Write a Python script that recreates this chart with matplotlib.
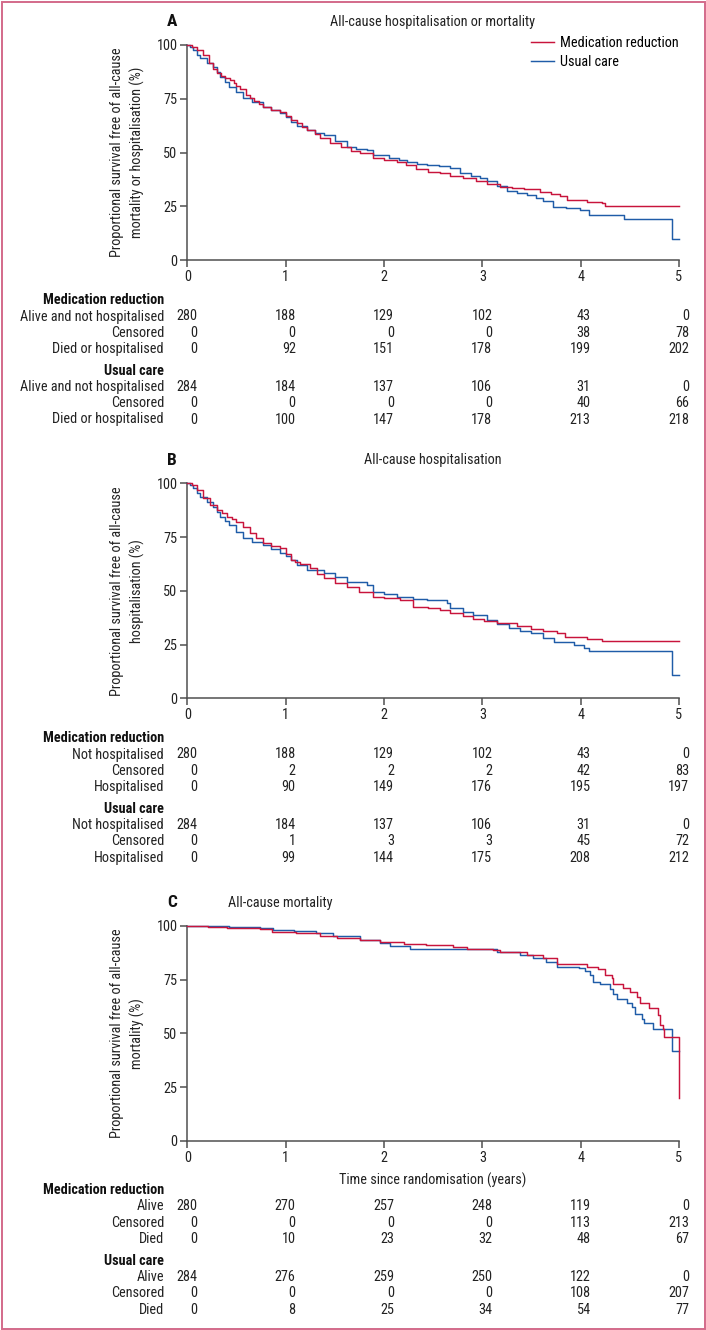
import matplotlib
matplotlib.use("Agg")
import matplotlib.pyplot as plt
import matplotlib.transforms as mtransforms
from matplotlib import font_manager
from matplotlib.patches import Rectangle

_names = {f.name for f in font_manager.fontManager.ttflist}
FONT = next((f for f in ["Liberation Sans Narrow", "Roboto Condensed", "Open Sans Condensed"]
             if f in _names), "Liberation Sans")
plt.rcParams["font.family"] = [FONT, "DejaVu Sans"]

RED = "#c8143c"
BLUE = "#1f5ca8"
GREY = "#505050"
TXT = "#222222"

W, H = 706, 1330
YEARS = [0, 1, 2, 3, 4, 5]

# ---- KM curves (time in years, % event free) ----
a_med_t = [0, 0.05, 0.10, 0.16, 0.22, 0.26, 0.30, 0.34, 0.38, 0.43, 0.47, 0.50, 0.54, 0.60, 0.64,
           0.68, 0.73, 0.77, 0.85, 0.94, 1.00, 1.05, 1.12, 1.17, 1.22, 1.30, 1.35, 1.45, 1.56,
           1.66, 1.76, 1.89, 2.00, 2.13, 2.22, 2.33, 2.45, 2.57, 2.67, 2.80, 2.94, 3.05, 3.18,
           3.30, 3.42, 3.59, 3.70, 3.79, 3.86, 4.06, 4.22, 4.25, 5.0]
a_med_s = [100, 99, 97.5, 95.3, 91.5, 89, 86.8, 85.5, 84.5, 83.5, 82.2, 81, 79.5, 76.7, 75.5,
           74, 72.5, 71.3, 70, 69, 67, 65, 63.5, 62, 60.5, 58.5, 56.6, 54.5, 52.7,
           50.5, 49.6, 47.3, 46.5, 45.5, 44, 42.1, 41, 40.6, 39, 38, 36.7, 35.5, 34.1,
           33.5, 32.9, 31.6, 30.6, 29.8, 27.9, 27.2, 26.4, 24.9, 24.9]
a_usu_t = [0, 0.03, 0.06, 0.10, 0.13, 0.20, 0.26, 0.30, 0.33, 0.38, 0.42, 0.50, 0.57, 0.66, 0.77,
           0.85, 0.94, 1.00, 1.05, 1.12, 1.22, 1.30, 1.39, 1.50, 1.62, 1.72, 1.83, 1.89, 2.05,
           2.15, 2.23, 2.34, 2.44, 2.56, 2.67, 2.77, 2.88, 2.98, 3.05, 3.15, 3.25, 3.35, 3.45,
           3.55, 3.62, 3.72, 3.85, 3.99, 4.08, 4.44, 4.93, 5.0]
a_usu_s = [100, 99, 97.5, 95.5, 93.8, 91.5, 89.9, 87.5, 85.3, 83, 80.6, 78, 75.2, 73.5, 71.3,
           70, 68.2, 66.5, 64.3, 62.5, 60.5, 59.2, 58.1, 55.5, 52.7, 51.8, 51.2, 48.8, 47.5,
           46.5, 45.5, 44.8, 44.1, 43.5, 42.9, 40.3, 39.2, 38, 36.7, 34.5, 32.1, 31.2, 30.2,
           28.8, 27.5, 24.7, 24, 23.3, 21, 19.3, 9.7, 9.7]

b_med_t = [0, 0.05, 0.095, 0.16, 0.23, 0.30, 0.35, 0.40, 0.45, 0.50, 0.57, 0.64, 0.70, 0.77, 0.85,
           0.94, 1.00, 1.05, 1.10, 1.15, 1.25, 1.32, 1.39, 1.50, 1.62, 1.75, 1.89, 2.00, 2.16,
           2.30, 2.45, 2.57, 2.67, 2.80, 2.91, 3.02, 3.15, 3.35, 3.49, 3.62, 3.76, 3.84, 4.06,
           4.22, 5.0]
b_med_s = [100, 99, 96.9, 93, 90, 87.6, 86, 84.5, 83.3, 82.2, 79.5, 76.8, 74.5, 72.1, 71,
           69.8, 67, 64.4, 63.5, 62.5, 60.5, 58, 55.8, 53.8, 51.9, 49.5, 47.3, 46.5, 45.7,
           42.6, 41.8, 41.1, 39.5, 38.2, 36.9, 35.9, 34.9, 33.8, 32.2, 31.2, 30.2, 28.6, 27.6,
           26.7, 26.7]
b_usu_t = [0, 0.03, 0.06, 0.10, 0.13, 0.20, 0.26, 0.30, 0.33, 0.38, 0.42, 0.50, 0.57, 0.66, 0.77,
           0.85, 0.94, 1.00, 1.05, 1.12, 1.22, 1.39, 1.50, 1.62, 1.83, 1.89, 2.00, 2.13, 2.30,
           2.44, 2.64, 2.67, 2.80, 2.91, 3.05, 3.15, 3.27, 3.38, 3.49, 3.62, 3.73, 3.93, 4.03,
           4.08, 4.93, 5.0]
b_usu_s = [100, 99, 97.7, 95.5, 93.8, 91.5, 89.1, 86.5, 84.5, 82.5, 80.6, 77.5, 74.4, 72.8, 71.3,
           69.5, 67.4, 66, 64.4, 62, 59.7, 58.2, 56.3, 54.3, 52.7, 49.6, 48.5, 47.3, 46,
           45.7, 44.2, 41.9, 40.3, 38.7, 36.4, 34.5, 32.6, 31.4, 30.2, 28.2, 26.3, 24.8, 23.3,
           22, 10.8, 10.8]

c_med_t = [0, 0.21, 0.40, 0.74, 0.86, 1.11, 1.35, 1.52, 1.76, 1.96, 2.20, 2.43, 2.70, 2.84, 3.11,
           3.18, 3.45, 3.62, 3.76, 4.06, 4.18, 4.25, 4.32, 4.33, 4.43, 4.50, 4.57, 4.60, 4.69,
           4.79, 4.81, 4.84, 4.85, 5.0]
c_med_s = [100, 99.5, 98.8, 98.3, 97.2, 96.4, 95.3, 94.4, 93.3, 92.2, 91.5, 91, 90.2, 89.4, 88.7,
           87.6, 86.6, 84.8, 82.1, 80.9, 79.8, 77.3, 75.5, 73.1, 71.1, 69.3, 66.9, 64.3, 61.8,
           58.4, 54, 52.2, 48.3, 20]
c_usu_t = [0, 0.42, 0.74, 0.87, 1.08, 1.31, 1.48, 1.76, 1.96, 2.06, 2.26, 2.77, 3.15, 3.38, 3.52,
           3.65, 3.76, 3.98, 4.04, 4.09, 4.13, 4.20, 4.30, 4.33, 4.37, 4.47, 4.52, 4.55, 4.62,
           4.64, 4.74, 4.93, 5.0]
c_usu_s = [100, 99.2, 98.8, 98, 97.5, 96.4, 95.3, 93.3, 91.8, 90.7, 89.4, 89, 87.9, 86.6, 84.8,
           83.2, 80.9, 80.4, 78.9, 77, 73.9, 73.1, 70.8, 68.5, 66.1, 64.3, 62.3, 59.2, 56.8,
           55, 51.9, 41.6, 41.6]

# ---- numbers at risk ----
a_rows = ["Alive and not hospitalised", "Censored", "Died or hospitalised"]
a_med = [[280, 188, 129, 102, 43, 0], [0, 0, 0, 0, 38, 78], [0, 92, 151, 178, 199, 202]]
a_usu = [[284, 184, 137, 106, 31, 0], [0, 0, 0, 0, 40, 66], [0, 100, 147, 178, 213, 218]]

b_rows = ["Not hospitalised", "Censored", "Hospitalised"]
b_med = [[280, 188, 129, 102, 43, 0], [0, 2, 2, 2, 42, 83], [0, 90, 149, 176, 195, 197]]
b_usu = [[284, 184, 137, 106, 31, 0], [0, 1, 3, 3, 45, 72], [0, 99, 144, 175, 208, 212]]

c_rows = ["Alive", "Censored", "Died"]
c_med = [[280, 270, 257, 248, 119, 0], [0, 0, 0, 0, 113, 213], [0, 10, 23, 32, 48, 67]]
c_usu = [[284, 276, 259, 250, 122, 0], [0, 0, 0, 0, 108, 207], [0, 8, 25, 34, 54, 77]]

FS = 10.3


def fy(py):
    return 1 - py / H


fig = plt.figure(figsize=(W / 100, H / 100), dpi=100)


def panel(top_px, bot_px, letter, title, title_x, ylabel, med_t, med_s, usu_t, usu_s,
          rows, med, usu, table_px, xlabel=None, legend=False):
    ax = fig.add_axes([187.3 / W, fy(bot_px), (679 - 187.3) / W, (bot_px - top_px) / H])
    ax.step(usu_t, usu_s, where="post", color=BLUE, lw=1.05, clip_on=False, zorder=3,
            label="Usual care")
    ax.step(med_t, med_s, where="post", color=RED, lw=1.05, clip_on=False, zorder=4,
            label="Medication reduction")
    ax.set_xlim(0, 5)
    ax.set_ylim(0, 100)
    ax.set_xticks(YEARS)
    ax.set_yticks([0, 25, 50, 75, 100])
    for s in ["top", "right"]:
        ax.spines[s].set_visible(False)
    for s in ["left", "bottom"]:
        ax.spines[s].set_color(GREY)
        ax.spines[s].set_linewidth(1.1)
    ax.tick_params(colors=GREY, labelcolor=TXT, labelsize=FS, length=5, width=1.1, pad=2)
    # y label drawn as two rotated lines, centred on the axes
    mid = (top_px + bot_px) / 2
    for x_px, line in zip((117, 137.5), ylabel):
        fig.text(x_px / W, fy(mid), line, fontsize=FS, color=TXT, rotation=90,
                 ha="center", va="center")
    if xlabel:
        fig.text(433 / W, fy(1180), xlabel, fontsize=FS, color=TXT, ha="center", va="center")
    if legend:
        h, l = ax.get_legend_handles_labels()
        ax.legend(h[::-1], l[::-1], loc="upper right", bbox_to_anchor=(1.0, 1.04),
                  frameon=False, fontsize=FS, handlelength=1.6, handletextpad=0.45,
                  labelspacing=0.3, borderaxespad=0, borderpad=0)
    fig.text(177 / W, fy(top_px - 23), letter, fontsize=12.5, fontweight="bold", color="#111111",
             ha="right", va="center")
    fig.text(title_x / W, fy(top_px - 23), title, fontsize=FS, color=TXT,
             ha="center" if title_x > 400 else "left", va="center")

    # risk table
    tr = mtransforms.blended_transform_factory(ax.transData, fig.transFigure) + \
        mtransforms.ScaledTranslation(10 / 100, 0, fig.dpi_scale_trans)
    y = table_px
    for group, data in (("Medication reduction", med), ("Usual care", usu)):
        fig.text(164 / W, fy(y), group, fontsize=FS, fontweight="bold", color="#111111",
                 ha="right", va="center")
        y += 16.5
        for name, vals in zip(rows, data):
            fig.text(164 / W, fy(y), name, fontsize=FS, color=TXT, ha="right", va="center")
            for t, v in zip(YEARS, vals):
                ax.text(t, fy(y), str(v), transform=tr, fontsize=FS, color=TXT,
                        ha="right", va="center")
            y += 16.2
        y += 5.5
    return ax


panel(45, 260, "A", "All-cause hospitalisation or mortality", 433,
      ["Proportional survival free of all-cause", "mortality or hospitalisation (%)"],
      a_med_t, a_med_s, a_usu_t, a_usu_s, a_rows, a_med, a_usu, 300, legend=True)
panel(483.3, 698.3, "B", "All-cause hospitalisation", 433,
      ["Proportional survival free of all-cause", "hospitalisation (%)"],
      b_med_t, b_med_s, b_usu_t, b_usu_s, b_rows, b_med, b_usu, 738)
panel(925.7, 1141, "C", "All-cause mortality", 228,
      ["Proportional survival free of all-cause", "mortality (%)"],
      c_med_t, c_med_s, c_usu_t, c_usu_s, c_rows, c_med, c_usu, 1190,
      xlabel="Time since randomisation (years)")

fig.patches.append(Rectangle((1.5 / W, 1.5 / H), 1 - 3 / W, 1 - 3 / H, transform=fig.transFigure,
                             fill=False, edgecolor="#d36a8a", lw=1.4))

fig.savefig("out.png", dpi=100)
